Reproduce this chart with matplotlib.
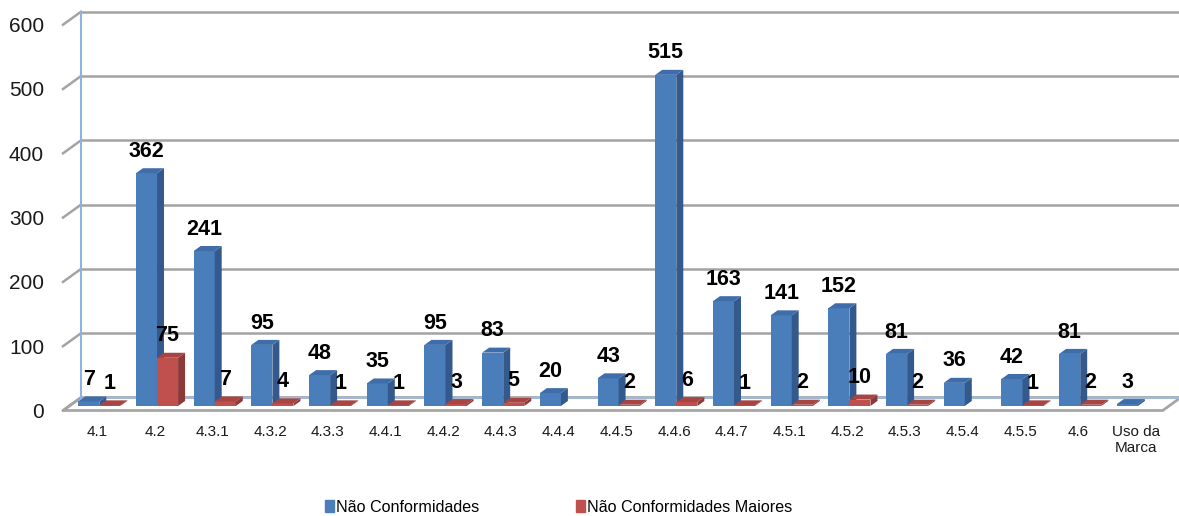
import numpy as np
import matplotlib
matplotlib.use("Agg")
import matplotlib.pyplot as plt
from matplotlib.patches import Polygon

plt.rcParams['font.family'] = ['Liberation Sans', 'DejaVu Sans']

categories = ['4.1', '4.2', '4.3.1', '4.3.2', '4.3.3', '4.4.1', '4.4.2', '4.4.3', '4.4.4',
              '4.4.5', '4.4.6', '4.4.7', '4.5.1', '4.5.2', '4.5.3', '4.5.4', '4.5.5', '4.6',
              'Uso da\nMarca']
nao_conf = [7, 362, 241, 95, 48, 35, 95, 83, 20, 43, 515, 163, 141, 152, 81, 36, 42, 81, 3]
nao_conf_maiores = [1, 75, 7, 4, 1, 1, 3, 5, None, 2, 6, 1, 2, 10, 2, None, 1, 2, None]
yticks = [0, 100, 200, 300, 400, 500, 600]

# pseudo 3d geometry (category units / value units)
DX, DY = 0.312, 20.2       # wall depth
BDX, BDY = 0.121, 7.8      # bar depth
BASE = 7                   # bar base height above front floor edge
W = 0.365
FL, FR = -0.589, 18.47     # floor front left/right

blue = ('#4A7EBB', '#34598C', '#3F6DAA')
red = ('#C0504D', '#8C3937', '#A64542')

fig = plt.figure(figsize=(11.79, 5.16), dpi=100)
ax = fig.add_axes([0, 0, 1, 1])
ax.set_xlim(-97 / 57.7, (1179 - 97) / 57.7)
ax.set_ylim((410.5 - 516) / 0.643, 410.5 / 0.643)
ax.axis('off')

# floor
ax.add_patch(Polygon([(FL, 0), (FR, 0), (FR + DX, DY), (FL + DX, DY)],
                     closed=True, facecolor='white', edgecolor='#A6A6A6', lw=2, zorder=1))
ax.plot([FL + DX, FR + DX], [DY, DY], color='#9DB9DD', lw=1.5, zorder=1.5)

# back wall grid + ticks
for v in yticks[1:]:
    ax.plot([FL + DX, FR + DX + 0.25], [v + DY, v + DY], color='#A3A3A3', lw=1.8, zorder=1)
for v in yticks:
    ax.plot([FL, FL + DX], [v, v + DY], color='#A3A3A3', lw=1.8, zorder=1)
    ax.text(-0.918, v - 3, str(v), ha='right', va='center', fontsize=15, color='#1a1a1a')
ax.plot([FL + DX, FL + DX], [DY, 600 + DY], color='#8DB3E2', lw=1.5, zorder=1.5)
ax.plot([FR + DX + 0.25] * 2, [DY, 600 + DY], color='#C6D9F1', lw=1.5, zorder=1.5)

x = np.arange(len(categories))


def draw_bar(x0, h, cols, z):
    front, side, top = cols
    ax.bar(x0, h, width=W, bottom=BASE, align='edge', color=front, zorder=z)
    t = BASE + h
    x1 = x0 + W
    ax.add_patch(Polygon([(x1, BASE), (x1 + BDX, BASE + BDY), (x1 + BDX, t + BDY), (x1, t)],
                         closed=True, facecolor=side, edgecolor='none', zorder=z))
    ax.add_patch(Polygon([(x0, t), (x1, t), (x1 + BDX, t + BDY), (x0 + BDX, t + BDY)],
                         closed=True, facecolor=top, edgecolor='none', zorder=z))
    ax.text(x0 + W / 2, t + 34, str(h), ha='center', va='center',
            fontsize=15.5, fontweight='bold', color='black', zorder=10)


for i in x:
    draw_bar(i - 0.325, nao_conf[i], blue, 3 + i * 0.01)
    if nao_conf_maiores[i] is not None:
        draw_bar(i + 0.04, nao_conf_maiores[i], red, 3.005 + i * 0.01)
    ax.text(i, -22, categories[i], ha='center', va='top', fontsize=11,
            color='#1a1a1a', linespacing=1.25)

handles = [plt.Rectangle((0, 0), 1, 1, color=blue[0]), plt.Rectangle((0, 0), 1, 1, color=red[0])]
fig.legend(handles, ['Não Conformidades', 'Não Conformidades Maiores'], loc='center',
           bbox_to_anchor=(0.474, 0.0174), ncol=2, frameon=False, fontsize=11.6,
           handlelength=0.55, handleheight=0.7, handletextpad=0.15, columnspacing=6.0)

fig.savefig('out.png', dpi=100)
